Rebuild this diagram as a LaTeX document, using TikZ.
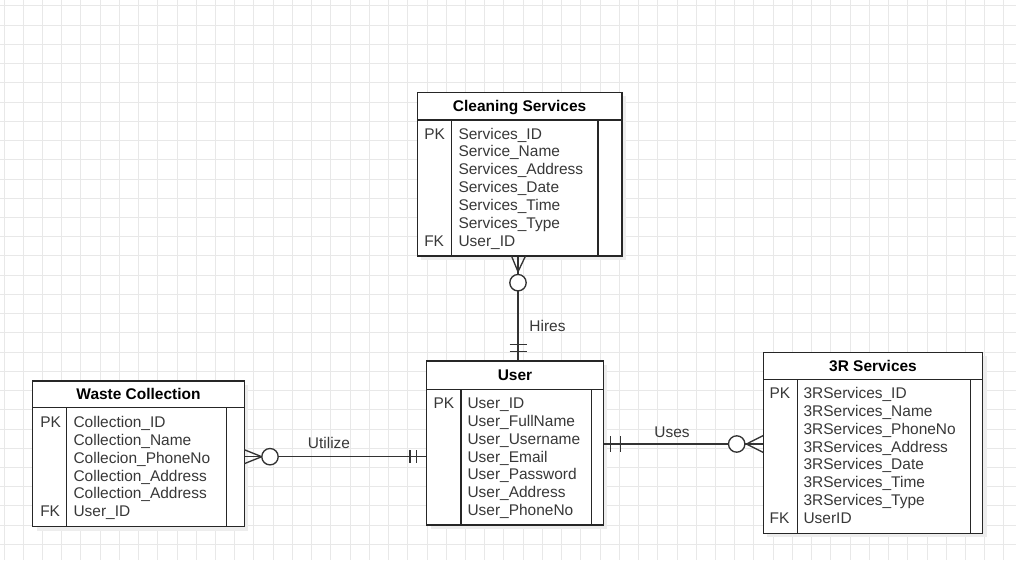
\documentclass[tikz,border=0pt]{standalone}
\usepackage{fontspec}
\setmainfont{Liberation Sans}
\usetikzlibrary{fit}
\begin{document}
\begin{tikzpicture}[x=0.75pt,y=-0.75pt,
  tbl/.style={draw=black!85, line width=1pt, fill=white, inner sep=0pt},
  shade/.style={fill=black!7},
  rule/.style={draw=black!85, line width=1pt},
  conn/.style={draw=black!80, line width=1pt},
  attr/.style={anchor=base west, inner sep=0pt, text=black!78, font=\fontsize{11.6}{13}\selectfont},
  hdr/.style={anchor=base, inner sep=0pt, text=black, font=\bfseries\fontsize{11.6}{13}\selectfont},
  lbl/.style={anchor=center, inner sep=0pt, text=black!78, font=\fontsize{11.6}{13}\selectfont}]
\useasboundingbox (0,0) rectangle (1016,560);
\fill[white] (0,0) rectangle (1016,560);
% grid
\foreach \k in {0,...,52} \draw[black!9, line width=0.75pt] (4+19.23*\k,0) -- (4+19.23*\k,560);
\foreach \k in {0,...,29} \draw[black!9, line width=0.75pt] (0,6+19.23*\k) -- (1016,6+19.23*\k);
% shadows
\fill[shade] (421.3,96.3) rectangle (626,260);
\fill[shade] (430.7,365) rectangle (607.3,529);
\fill[shade] (36.7,385) rectangle (248.3,530.7);
\fill[shade] (767.3,356.3) rectangle (986.7,537.3);

% ---------- Cleaning Services ----------
\node[tbl, fit={(417.3,92.3) (622,256)}] (cs) {};
\draw[rule] (417.3,120) -- (622,120);
\draw[rule] (451.7,120) -- (451.7,256);
\draw[rule] (598,120) -- (598,256);
\node[hdr] (cs-h) at (519.6,111.2) {Cleaning Services};
\node[attr] (cs-pk) at (424,139) {PK};
\node[attr] (cs-fk) at (424,139+17.9*6) {FK};
\foreach \t [count=\i from 0] in {Services\_ID, Service\_Name, Services\_Address, Services\_Date, Services\_Time, Services\_Type, User\_ID}
  \node[attr] (cs-a\i) at (458.3,139+17.9*\i) {\t};

% ---------- User ----------
\node[tbl, fit={(426.7,361) (603.3,525)}] (user) {};
\draw[rule] (426.7,389.3) -- (603.3,389.3);
\draw[rule] (461,389.3) -- (461,525);
\draw[rule] (591.7,389.3) -- (591.7,525);
\node[hdr] (user-h) at (515,380.2) {User};
\node[attr] (user-pk) at (433.3,408.3) {PK};
\foreach \t [count=\i from 0] in {User\_ID, User\_FullName, User\_Username, User\_Email, User\_Password, User\_Address, User\_PhoneNo}
  \node[attr] (user-a\i) at (467.3,408.3+17.9*\i) {\t};

% ---------- Waste Collection ----------
\node[tbl, fit={(32.7,381) (244.3,526.7)}] (wc) {};
\draw[rule] (32.7,407.7) -- (244.3,407.7);
\draw[rule] (66.7,407.7) -- (66.7,526.7);
\draw[rule] (226.7,407.7) -- (226.7,526.7);
\node[hdr] (wc-h) at (138.5,399.5) {Waste Collection};
\node[attr] (wc-pk) at (40,427.3) {PK};
\node[attr] (wc-fk) at (40,427.3+17.9*5) {FK};
\foreach \t [count=\i from 0] in {Collection\_ID, Collection\_Name, Collecion\_PhoneNo, Collection\_Address, Collection\_Address, User\_ID}
  \node[attr] (wc-a\i) at (73.3,427.3+17.9*\i) {\t};

% ---------- 3R Services ----------
\node[tbl, fit={(763.3,352.3) (982.7,533.3)}] (rs) {};
\draw[rule] (763.3,379.3) -- (982.7,379.3);
\draw[rule] (797.3,379.3) -- (797.3,533.3);
\draw[rule] (970.7,379.3) -- (970.7,533.3);
\node[hdr] (rs-h) at (873,371) {3R Services};
\node[attr] (rs-pk) at (769.3,398.3) {PK};
\node[attr] (rs-fk) at (769.3,398.3+17.9*7) {FK};
\foreach \t [count=\i from 0] in {3RServices\_ID, 3RServices\_Name, 3RServices\_PhoneNo, 3RServices\_Address, 3RServices\_Date, 3RServices\_Time, 3RServices\_Type, UserID}
  \node[attr] (rs-a\i) at (803.3,398.3+17.9*\i) {\t};

% ---------- Hires ----------
\coordinate (hx) at (518,0);
\draw[conn] (cs.south -| hx) -- (user.north -| hx);
\draw[conn] (511.5,256) -- (518,271.7) -- (525.5,256);
\draw[conn, fill=white] (518,282.7) circle[radius=8.2];
\draw[conn] (509.5,344.3) -- (526.5,344.3) (509.5,351.7) -- (526.5,351.7);
\node[lbl] (lh) at (547.5,326) {Hires};

% ---------- Utilize ----------
\coordinate (uy) at (0,456.7);
\draw[conn] (wc.east |- uy) -- (user.west |- uy);
\draw[conn] (244.3,449.7) -- (261.7,456.7) -- (244.3,463.7);
\draw[conn, fill=white] (270,456.7) circle[radius=8.2];
\draw[conn] (410,450) -- (410,463.4) (416.7,450) -- (416.7,463.4);
\node[lbl] (lu) at (329,442.5) {Utilize};

% ---------- Uses ----------
\coordinate (sy) at (0,444);
\draw[conn] (user.east |- sy) -- (rs.west |- sy);
\draw[conn] (610.7,436) -- (610.7,452) (620.7,436) -- (620.7,452);
\draw[conn] (763.3,435.5) -- (746.5,444) -- (763.3,452.5);
\draw[conn, fill=white] (736.7,444) circle[radius=8.2];
\node[lbl] (ls) at (672,432) {Uses};
\end{tikzpicture}
\end{document}
